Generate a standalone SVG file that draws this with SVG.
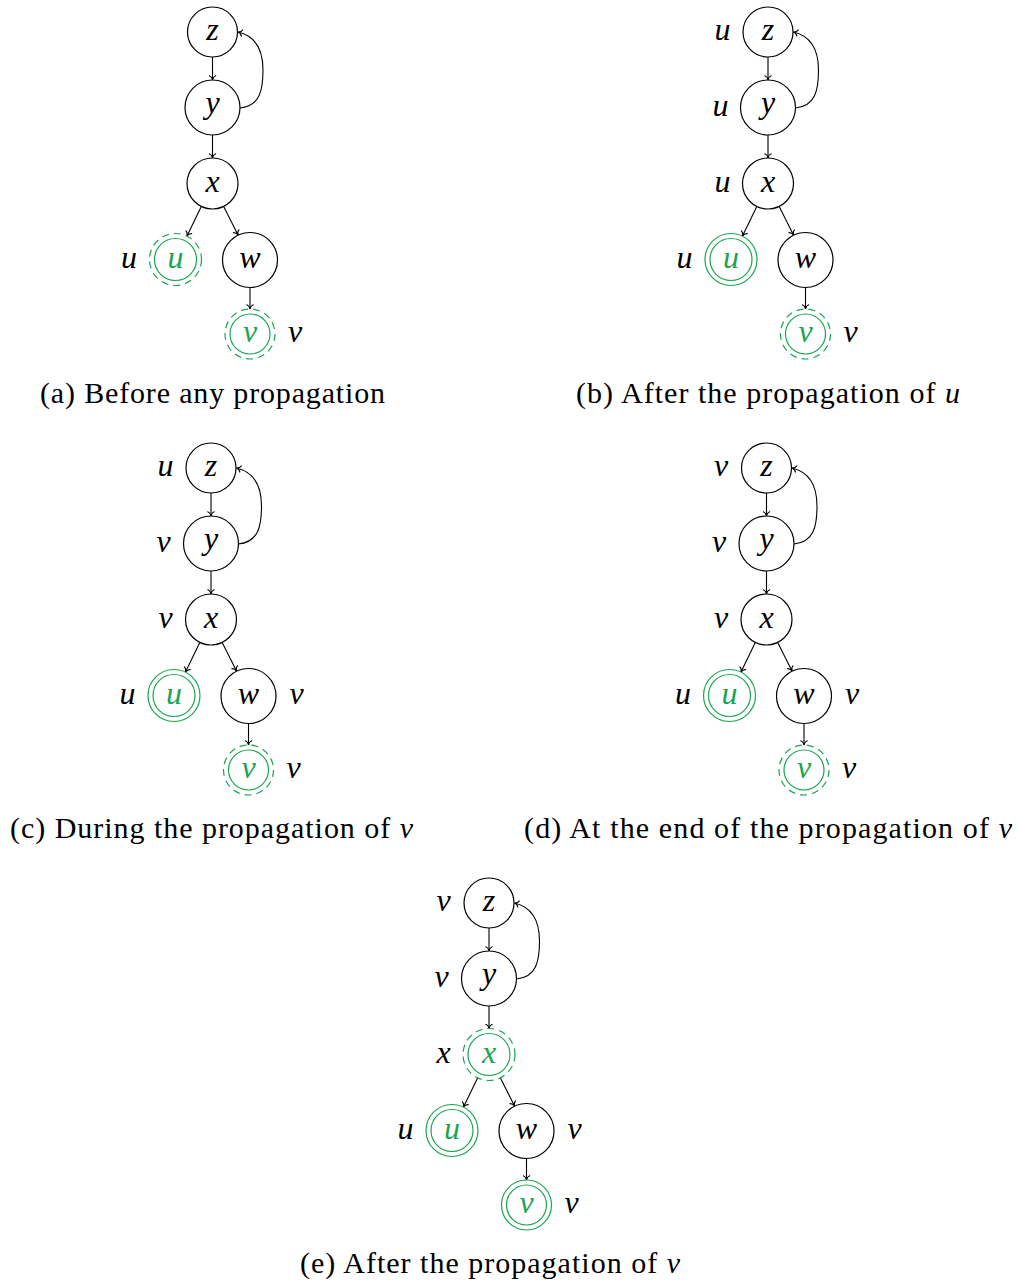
<svg xmlns="http://www.w3.org/2000/svg" width="1020" height="1281" viewBox="0 0 1020 1281">
<style>
.nd{fill:#fff;stroke:#000;stroke-width:1.2}
.gn{fill:none;stroke:#1ba552;stroke-width:1.2}
.dash{stroke-dasharray:7 5}
.ed{fill:none;stroke:#000;stroke-width:1.1;marker-end:url(#ah)}
.m{font-family:'Liberation Serif','Times New Roman',serif;font-style:italic;font-size:32px;text-anchor:middle;fill:#000}
.mg{fill:#1ba552}
.cap{font-family:'Liberation Serif','Times New Roman',serif;font-size:30px;text-anchor:middle;fill:#000}
</style>
<defs>
<marker id="ah" viewBox="-5 -4 6 8" refX="0" refY="0" markerWidth="6" markerHeight="8" orient="auto" markerUnits="userSpaceOnUse">
<path d="M-4.2,-3.2 C-3.5,-1.2 -1.5,-0.3 0,0 C-1.5,0.3 -3.5,1.2 -4.2,3.2" fill="none" stroke="#000" stroke-width="1.1" stroke-linecap="round"/>
</marker>
</defs>

<!-- Panel (a) -->
<g id="panel-a">
<g id="a-edges">
<path class="ed" d="M212.5,57 L212.5,80"/>
<path class="ed" d="M212.5,135 L212.5,158"/>
<path class="ed" d="M201.3,206.5 L187,236"/>
<path class="ed" d="M223.7,206.5 L238,235"/>
<path class="ed" d="M250,287.5 L250,309"/>
<path class="ed" d="M240,108 C260,106 263,90 263,70 C263,48 255,36 238,32"/>
</g>
<g id="a-z"><circle class="nd" cx="212.5" cy="32" r="25"/><text class="m" x="212.5" y="40">z</text></g>
<g id="a-y"><circle class="nd" cx="212.5" cy="107.5" r="27.5"/><text class="m" x="212.5" y="112.5">y</text></g>
<g id="a-x"><circle class="nd" cx="212.5" cy="183.5" r="25.5"/><text class="m" x="212.5" y="191.5">x</text></g>
<g id="a-u"><circle class="gn dash" cx="175.5" cy="259.5" r="26"/><circle class="gn" cx="175.5" cy="259.5" r="21"/><text class="m mg" x="175.5" y="267.5">u</text><text class="m" x="129" y="267.5">u</text></g>
<g id="a-w"><circle class="nd" cx="250" cy="260" r="27.5"/><text class="m" x="250" y="268">w</text></g>
<g id="a-v"><circle class="gn dash" cx="250" cy="334" r="25"/><circle class="gn" cx="250" cy="334" r="20"/><text class="m mg" x="250" y="342">v</text><text class="m" x="295" y="342">v</text></g>
<text class="cap" x="212.5" y="403" textLength="345">(a) Before any propagation</text>
</g>

<!-- Panel (b) -->
<g id="panel-b" transform="translate(555.5,0)">
<g id="b-edges">
<path class="ed" d="M212.5,57 L212.5,80"/>
<path class="ed" d="M212.5,135 L212.5,158"/>
<path class="ed" d="M201.3,206.5 L187,236"/>
<path class="ed" d="M223.7,206.5 L238,235"/>
<path class="ed" d="M250,287.5 L250,309"/>
<path class="ed" d="M240,108 C260,106 263,90 263,70 C263,48 255,36 238,32"/>
</g>
<g id="b-z"><circle class="nd" cx="212.5" cy="32" r="25"/><text class="m" x="212.5" y="40">z</text><text class="m" x="167" y="40">u</text></g>
<g id="b-y"><circle class="nd" cx="212.5" cy="107.5" r="27.5"/><text class="m" x="212.5" y="112.5">y</text><text class="m" x="165" y="116">u</text></g>
<g id="b-x"><circle class="nd" cx="212.5" cy="183.5" r="25.5"/><text class="m" x="212.5" y="191.5">x</text><text class="m" x="167" y="191.5">u</text></g>
<g id="b-u"><circle class="gn" cx="175.5" cy="259.5" r="26"/><circle class="gn" cx="175.5" cy="259.5" r="21"/><text class="m mg" x="175.5" y="267.5">u</text><text class="m" x="129" y="267.5">u</text></g>
<g id="b-w"><circle class="nd" cx="250" cy="260" r="27.5"/><text class="m" x="250" y="268">w</text></g>
<g id="b-v"><circle class="gn dash" cx="250" cy="334" r="25"/><circle class="gn" cx="250" cy="334" r="20"/><text class="m mg" x="250" y="342">v</text><text class="m" x="295" y="342">v</text></g>
<text class="cap" x="212.5" y="403" textLength="384">(b) After the propagation of <tspan font-style="italic">u</tspan></text>
</g>

<!-- Panel (c) -->
<g id="panel-c" transform="translate(-1.5,436)">
<g id="c-edges">
<path class="ed" d="M212.5,57 L212.5,80"/>
<path class="ed" d="M212.5,135 L212.5,158"/>
<path class="ed" d="M201.3,206.5 L187,236"/>
<path class="ed" d="M223.7,206.5 L238,235"/>
<path class="ed" d="M250,287.5 L250,309"/>
<path class="ed" d="M240,108 C260,106 263,90 263,70 C263,48 255,36 238,32"/>
</g>
<g id="c-z"><circle class="nd" cx="212.5" cy="32" r="25"/><text class="m" x="212.5" y="40">z</text><text class="m" x="167" y="40">u</text></g>
<g id="c-y"><circle class="nd" cx="212.5" cy="107.5" r="27.5"/><text class="m" x="212.5" y="112.5">y</text><text class="m" x="165" y="116">v</text></g>
<g id="c-x"><circle class="nd" cx="212.5" cy="183.5" r="25.5"/><text class="m" x="212.5" y="191.5">x</text><text class="m" x="167" y="191.5">v</text></g>
<g id="c-u"><circle class="gn" cx="175.5" cy="259.5" r="26"/><circle class="gn" cx="175.5" cy="259.5" r="21"/><text class="m mg" x="175.5" y="267.5">u</text><text class="m" x="129" y="267.5">u</text></g>
<g id="c-w"><circle class="nd" cx="250" cy="260" r="27.5"/><text class="m" x="250" y="268">w</text><text class="m" x="298" y="268">v</text></g>
<g id="c-v"><circle class="gn dash" cx="250" cy="334" r="25"/><circle class="gn" cx="250" cy="334" r="20"/><text class="m mg" x="250" y="342">v</text><text class="m" x="295" y="342">v</text></g>
<text class="cap" x="213" y="402" textLength="403">(c) During the propagation of <tspan font-style="italic">v</tspan></text>
</g>

<!-- Panel (d) -->
<g id="panel-d" transform="translate(554,436)">
<g id="d-edges">
<path class="ed" d="M212.5,57 L212.5,80"/>
<path class="ed" d="M212.5,135 L212.5,158"/>
<path class="ed" d="M201.3,206.5 L187,236"/>
<path class="ed" d="M223.7,206.5 L238,235"/>
<path class="ed" d="M250,287.5 L250,309"/>
<path class="ed" d="M240,108 C260,106 263,90 263,70 C263,48 255,36 238,32"/>
</g>
<g id="d-z"><circle class="nd" cx="212.5" cy="32" r="25"/><text class="m" x="212.5" y="40">z</text><text class="m" x="167" y="40">v</text></g>
<g id="d-y"><circle class="nd" cx="212.5" cy="107.5" r="27.5"/><text class="m" x="212.5" y="112.5">y</text><text class="m" x="165" y="116">v</text></g>
<g id="d-x"><circle class="nd" cx="212.5" cy="183.5" r="25.5"/><text class="m" x="212.5" y="191.5">x</text><text class="m" x="167" y="191.5">v</text></g>
<g id="d-u"><circle class="gn" cx="175.5" cy="259.5" r="26"/><circle class="gn" cx="175.5" cy="259.5" r="21"/><text class="m mg" x="175.5" y="267.5">u</text><text class="m" x="129" y="267.5">u</text></g>
<g id="d-w"><circle class="nd" cx="250" cy="260" r="27.5"/><text class="m" x="250" y="268">w</text><text class="m" x="298" y="268">v</text></g>
<g id="d-v"><circle class="gn dash" cx="250" cy="334" r="25"/><circle class="gn" cx="250" cy="334" r="20"/><text class="m mg" x="250" y="342">v</text><text class="m" x="295" y="342">v</text></g>
<text class="cap" x="214" y="402" textLength="488">(d) At the end of the propagation of <tspan font-style="italic">v</tspan></text>
</g>

<!-- Panel (e) -->
<g id="panel-e" transform="translate(276.5,871)">
<g id="e-edges">
<path class="ed" d="M212.5,57 L212.5,80"/>
<path class="ed" d="M212.5,135 L212.5,157.5"/>
<path class="ed" d="M201.1,207 L187,236"/>
<path class="ed" d="M223.9,207 L238,235"/>
<path class="ed" d="M250,287.5 L250,309"/>
<path class="ed" d="M240,108 C260,106 263,90 263,70 C263,48 255,36 238,32"/>
</g>
<g id="e-z"><circle class="nd" cx="212.5" cy="32" r="25"/><text class="m" x="212.5" y="40">z</text><text class="m" x="167" y="40">v</text></g>
<g id="e-y"><circle class="nd" cx="212.5" cy="107.5" r="27.5"/><text class="m" x="212.5" y="112.5">y</text><text class="m" x="165" y="116">v</text></g>
<g id="e-x"><circle class="gn dash" cx="212.5" cy="183.5" r="26"/><circle class="gn" cx="212.5" cy="183.5" r="21"/><text class="m mg" x="212.5" y="191.5">x</text><text class="m" x="167" y="191.5">x</text></g>
<g id="e-u"><circle class="gn" cx="175.5" cy="259.5" r="26"/><circle class="gn" cx="175.5" cy="259.5" r="21"/><text class="m mg" x="175.5" y="267.5">u</text><text class="m" x="129" y="267.5">u</text></g>
<g id="e-w"><circle class="nd" cx="250" cy="260" r="27.5"/><text class="m" x="250" y="268">w</text><text class="m" x="298" y="268">v</text></g>
<g id="e-v"><circle class="gn" cx="250" cy="334" r="25"/><circle class="gn" cx="250" cy="334" r="20"/><text class="m mg" x="250" y="342">v</text><text class="m" x="295" y="342">v</text></g>
<text class="cap" x="213.5" y="402" textLength="380">(e) After the propagation of <tspan font-style="italic">v</tspan></text>
</g>
</svg>
